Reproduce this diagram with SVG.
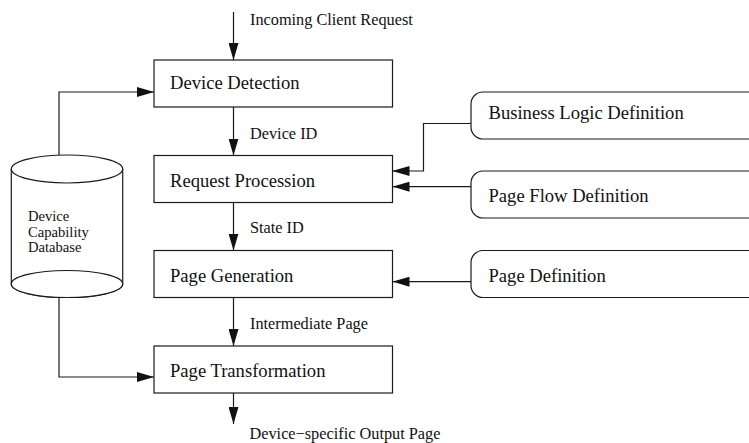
<svg xmlns="http://www.w3.org/2000/svg" width="749" height="443" viewBox="0 0 749 443">
  <style>
    .box { fill: #fff; stroke: #1a1a1a; stroke-width: 1.2; }
    .wire { fill: none; stroke: #1a1a1a; stroke-width: 1.2; }
    .big { font-family: "Liberation Serif", "Times New Roman", serif; font-size: 18.6px; fill: #111; }
    .lbl { font-family: "Liberation Serif", "Times New Roman", serif; font-size: 16.3px; fill: #111; }
    .small { font-family: "Liberation Serif", "Times New Roman", serif; font-size: 14.6px; fill: #111; }
  </style>
  <defs>
    <marker id="arrow" viewBox="0 0 17 10" refX="17" refY="5" markerWidth="17" markerHeight="10" markerUnits="userSpaceOnUse" orient="auto">
      <path d="M0,0 L17,5 L0,10 Z" fill="#111"/>
    </marker>
  </defs>

  <!-- connectors -->
  <g id="connectors">
    <line class="wire" x1="233.5" y1="12" x2="233.5" y2="60" marker-end="url(#arrow)"/>
    <line class="wire" x1="233.5" y1="107" x2="233.5" y2="155.5" marker-end="url(#arrow)"/>
    <line class="wire" x1="233.5" y1="202.5" x2="233.5" y2="250.5" marker-end="url(#arrow)"/>
    <line class="wire" x1="233.5" y1="297.5" x2="233.5" y2="346" marker-end="url(#arrow)"/>
    <line class="wire" x1="233.5" y1="393" x2="233.5" y2="424" marker-end="url(#arrow)"/>
    <polyline class="wire" points="59,155 59,92 154,92" marker-end="url(#arrow)"/>
    <polyline class="wire" points="59,298 59,377 154,377" marker-end="url(#arrow)"/>
    <polyline class="wire" points="471,123.5 423.5,123.5 423.5,171 392.5,171" marker-end="url(#arrow)"/>
    <line class="wire" x1="471" y1="186.7" x2="392.5" y2="186.7" marker-end="url(#arrow)"/>
    <line class="wire" x1="471" y1="281.7" x2="392.5" y2="281.7" marker-end="url(#arrow)"/>
  </g>

  <!-- edge labels -->
  <g id="edge-labels">
    <text class="lbl" x="250" y="25">Incoming Client Request</text>
    <text class="lbl" x="250" y="138.5">Device ID</text>
    <text class="lbl" x="250" y="233">State ID</text>
    <text class="lbl" x="250" y="328.5">Intermediate Page</text>
    <text class="lbl" x="249.5" y="439">Device−specific Output Page</text>
  </g>

  <!-- processing stages -->
  <g id="device-detection">
    <rect class="box" x="154" y="60" width="238.5" height="47"/>
    <text class="big" x="170" y="89">Device Detection</text>
  </g>
  <g id="request-procession">
    <rect class="box" x="154" y="155.5" width="238.5" height="47"/>
    <text class="big" x="170" y="186.5">Request Procession</text>
  </g>
  <g id="page-generation">
    <rect class="box" x="154" y="250.5" width="238.5" height="47"/>
    <text class="big" x="170" y="281.5">Page Generation</text>
  </g>
  <g id="page-transformation">
    <rect class="box" x="154" y="346" width="238.5" height="47"/>
    <text class="big" x="170" y="376.5">Page Transformation</text>
  </g>

  <!-- definition inputs -->
  <g id="business-logic-definition">
    <rect class="box" x="471" y="92" width="300" height="47" rx="12" ry="12"/>
    <text class="big" x="488.5" y="118.5">Business Logic Definition</text>
  </g>
  <g id="page-flow-definition">
    <rect class="box" x="471" y="171" width="300" height="47" rx="12" ry="12"/>
    <text class="big" x="488.5" y="201.5">Page Flow Definition</text>
  </g>
  <g id="page-definition">
    <rect class="box" x="471" y="250.5" width="300" height="47" rx="12" ry="12"/>
    <text class="big" x="488.5" y="281.5">Page Definition</text>
  </g>

  <!-- capability database -->
  <g id="device-capability-database">
    <path class="box" d="M11.3,169 L11.3,284 A55.7,13.5 0 0 0 122.7,284 L122.7,169"/>
    <ellipse class="box" cx="67" cy="169" rx="55.7" ry="14"/>
    <ellipse class="box" cx="67" cy="284" rx="55.7" ry="13.5"/>
    <text class="small" x="28" y="220.7">Device</text>
    <text class="small" x="28" y="236.7">Capability</text>
    <text class="small" x="28" y="252.2">Database</text>
  </g>
</svg>
